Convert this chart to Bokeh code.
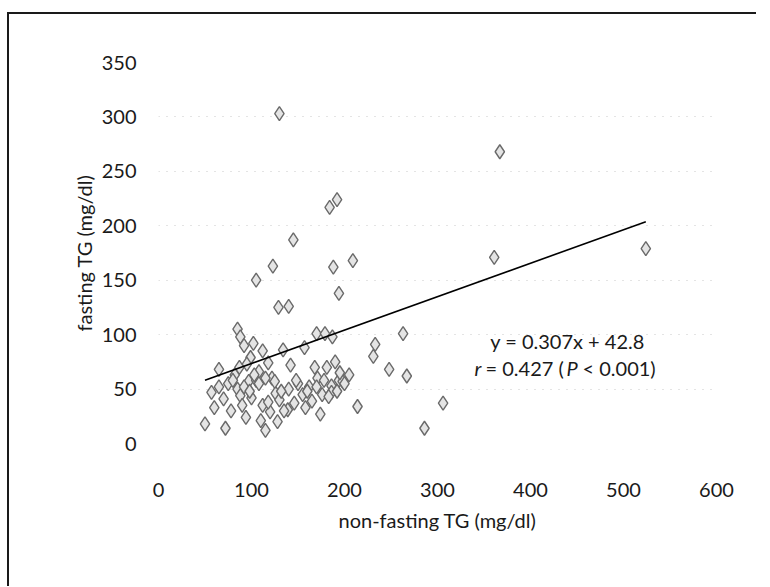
from bokeh.plotting import figure
from bokeh.models import Range1d, Label, FixedTicker, ColumnDataSource
from bokeh.embed import file_html
from bokeh.resources import INLINE

# ---- data ----
nonfasting_tg = [
    130, 367, 184, 192, 145, 123, 105, 188, 209, 194, 129, 140, 361, 524,
    263, 233, 231, 248, 267, 306, 286,
    85, 88, 92, 102, 99, 95, 65, 118, 134, 157, 170, 179, 187, 168, 171,
    181, 186, 186, 146, 139, 158, 165, 174, 194, 214, 198, 205, 190, 195,
    50, 57, 60, 65, 70, 78, 72, 85, 88, 90, 82, 97, 100, 94, 105, 110,
    112, 120, 126, 130, 135, 128, 115, 150, 155, 162, 176, 122, 108, 142,
    75, 80, 92, 98, 108, 115, 125, 140, 148, 160, 170, 178, 183, 192, 200,
    118, 132, 103, 87, 112,
]
fasting_tg = [
    303, 268, 217, 224, 187, 163, 150, 162, 168, 138, 125, 126, 171, 179,
    101, 91, 80, 68, 62, 37, 14,
    105, 98, 90, 92, 79, 73, 68, 74, 86, 88, 101, 101, 98, 70, 60,
    70, 53, 47, 37, 31, 33, 39, 27, 58, 34, 57, 63, 75, 65,
    18, 47, 33, 52, 41, 30, 14, 50, 44, 35, 63, 57, 42, 24, 58, 21,
    35, 29, 46, 40, 30, 20, 12, 55, 45, 52, 45, 60, 66, 72,
    55, 58, 52, 48, 55, 60, 57, 50, 58, 48, 52, 58, 43, 48, 55,
    38, 48, 63, 70, 85,
]
slope = 0.307
intercept = 42.8
x_ticks = [0, 100, 200, 300, 400, 500, 600]
y_ticks = [0, 50, 100, 150, 200, 250, 300, 350]

FONT = "Lato"
INK = "#1a1a1a"

p = figure(
    frame_width=558, frame_height=381,
    min_border_left=149, min_border_right=40,
    min_border_top=48, min_border_bottom=143,
    x_range=Range1d(0, 600), y_range=Range1d(0, 350),
    output_backend="svg", toolbar_location=None,
)
p.outline_line_color = None
p.background_fill_color = "white"
p.border_fill_color = "white"
p.styles = {"margin-left": "7px", "margin-top": "12px",
            "border-top": "2px solid #1a1a1a", "border-left": "2px solid #1a1a1a"}

p.xgrid.visible = False
p.ygrid.ticker = FixedTicker(ticks=y_ticks)
p.ygrid.grid_line_color = "#c8c8c8"
p.ygrid.grid_line_dash = "1 7"
p.ygrid.grid_line_width = 1

for ax in (p.xaxis[0], p.yaxis[0]):
    ax.axis_line_color = None
    ax.major_tick_line_color = None
    ax.minor_tick_line_color = None
    ax.major_label_text_font = FONT
    ax.major_label_text_font_size = "20px"
    ax.major_label_text_color = INK
    ax.axis_label_text_font = FONT
    ax.axis_label_text_font_size = "20px"
    ax.axis_label_text_font_style = "normal"
    ax.axis_label_text_color = INK

p.xaxis.ticker = FixedTicker(ticks=x_ticks)
p.yaxis.ticker = FixedTicker(ticks=y_ticks)
p.xaxis.major_label_standoff = 33
p.yaxis.major_label_standoff = 16
p.xaxis.axis_label = "non-fasting TG (mg/dl)"
p.yaxis.axis_label = "fasting TG (mg/dl)"
p.xaxis.axis_label_standoff = 8
p.yaxis.axis_label_standoff = 3

src = ColumnDataSource(data=dict(x=nonfasting_tg, y=fasting_tg))
p.scatter("x", "y", source=src, marker="diamond", size=14,
          fill_color="#e4e4e4", line_color="#6a6a6a", line_width=1.4)

x0, x1 = min(nonfasting_tg), max(nonfasting_tg)
p.line([x0, x1], [slope * x0 + intercept, slope * x1 + intercept],
       line_color="black", line_width=1.6)

eq_style = dict(text_font=FONT, text_font_size="20px", text_color=INK,
                text_baseline="middle")
p.add_layout(Label(x=439.8, y=94.6, text="y = 0.307x + 42.8", text_align="center",
                   **eq_style))
# second line: "r = 0.427 (P < 0.001)" with italic r and P
p.add_layout(Label(x=339.8, y=68.9, text="r", text_font_style="italic", **eq_style))
p.add_layout(Label(x=351.6, y=68.9, text="= 0.427 (", **eq_style))
p.add_layout(Label(x=438.7, y=68.9, text="P", text_font_style="italic", **eq_style))
p.add_layout(Label(x=455.9, y=68.9, text="< 0.001)", **eq_style))

open("out.html", "w").write(file_html(p, INLINE))
